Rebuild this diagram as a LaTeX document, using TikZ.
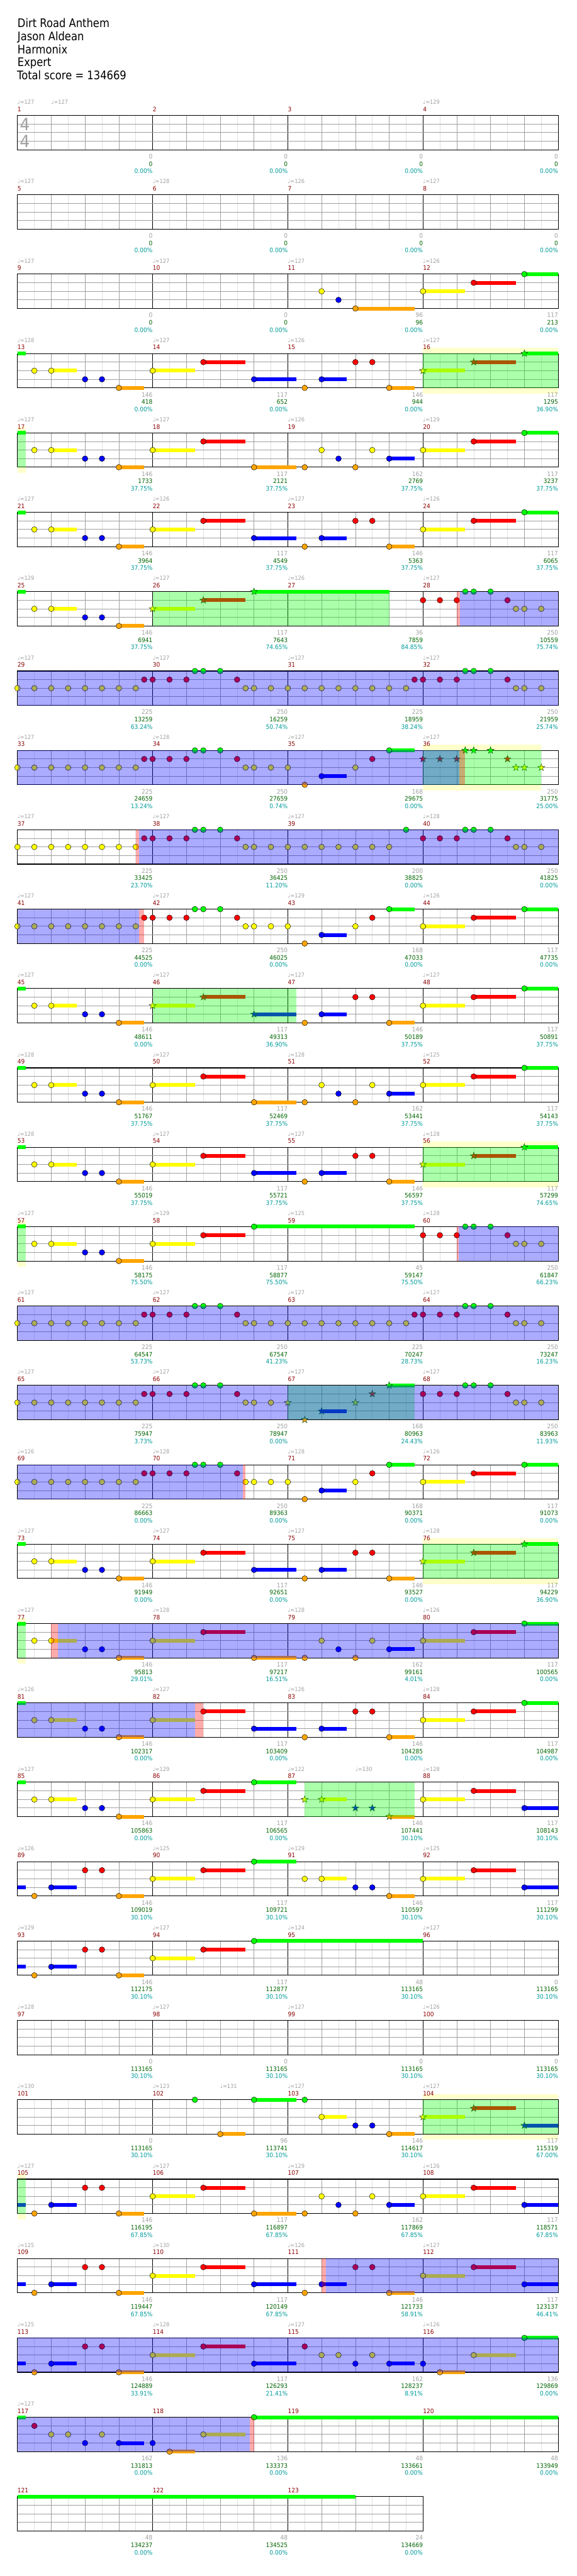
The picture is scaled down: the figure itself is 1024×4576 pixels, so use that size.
\documentclass[tikz,border=0pt]{standalone}
\usepackage{fontspec}
\setmainfont{DejaVu Sans}[FakeStretch=0.92]
\newfontfamily\headfam{DejaVu Sans}[FakeStretch=0.87]

\definecolor{lane0}{HTML}{00FF00}
\definecolor{lane1}{HTML}{FF0000}
\definecolor{lane2}{HTML}{FFFF00}
\definecolor{lane3}{HTML}{0000FF}
\definecolor{lane4}{HTML}{FFA500}
\definecolor{gridgray}{HTML}{A0A0A0}
\definecolor{gridlight}{HTML}{E0E0E0}
\definecolor{labelgray}{HTML}{A0A0A0}
\definecolor{barred}{HTML}{8B0000}
\definecolor{scoregreen}{HTML}{006400}
\definecolor{pctteal}{HTML}{009B9B}
\definecolor{glowyellow}{HTML}{FFFFCC}

\pgfdeclarelayer{bg}
\pgfdeclarelayer{base}
\pgfdeclarelayer{ov}
\pgfsetlayers{bg,base,main,ov}

\newcommand{\labelfont}{\fontsize{11}{11}\selectfont}
\newcommand{\tempofont}{\fontsize{10}{10}\selectfont}

% one line of the chart, #1 = line index (4 measures, 60pt a beat)
\newenvironment{chartrow}[1]{\def\rowid{#1}%
  \begin{scope}[shift={(31pt,{-205pt-141pt*#1})}, x=60pt, y=-15.25pt]}{\end{scope}}

% staff with #1 measures
\newcommand{\staff}[1]{%
  \begin{pgfonlayer}{base}
    \fill[white] (0,0) rectangle (4*#1,4);
    \foreach \h in {1,...,#1}{
      \foreach \q in {0.5,1.5,2.5,3.5} \draw[halfline] ({4*\h-4+\q},0) -- ++(0,4);
      \foreach \q in {1,2,3} \draw[beatline] ({4*\h-4+\q},0) -- ++(0,4);
      \draw[barline] (4*\h-4,0) -- ++(0,4);}
    \foreach \l in {1,2,3} \draw[laneline] (0,\l) -- (4*#1,\l);
    \draw[frame] (0,0) rectangle (4*#1,4);
  \end{pgfonlayer}
  \foreach \h in {1,...,#1}{
    \pgfmathtruncatemacro\mn{4*\rowid+\h}
    \node[mnum] (m\mn) at (4*\h-4,0) {\mn};}}

% notes: beat, lane (0 green ... 4 orange)
\newcommand{\nt}[2]{\draw[notehead, fill=lane#2] (#1,#2) circle[radius=5pt];}
\newcommand{\sus}[3]{\fill[lane#2] (#1,{#2-0.22}) rectangle (#3,{#2+0.22}); \nt{#1}{#2}}
\newcommand{\spn}[2]{\draw[starhead, fill=lane#2] (#1,#2) +(90:6.5pt) -- +(126:2.6pt)
  -- +(162:6.5pt) -- +(198:2.6pt) -- +(234:6.5pt) -- +(270:2.6pt) -- +(306:6.5pt)
  -- +(342:2.6pt) -- +(18:6.5pt) -- +(54:2.6pt) -- cycle;}
\newcommand{\sps}[3]{\fill[lane#2] (#1,{#2-0.22}) rectangle (#3,{#2+0.22}); \spn{#1}{#2}}
\newcommand{\tail}[1]{\fill[lane#1] (0,{#1-0.22}) rectangle (0.24,{#1+0.22});}

% shaded zones
\newcommand{\glow}[2]{\begin{pgfonlayer}{bg}\fill[glowzone] (#1,-0.66) rectangle (#2,4.66);\end{pgfonlayer}}
\newcommand{\phrase}[2]{\begin{pgfonlayer}{ov}\fill[spzone] (#1,0) rectangle (#2,4);\end{pgfonlayer}}
\newcommand{\act}[2]{\begin{pgfonlayer}{ov}\fill[actzone] (#1,0) rectangle (#2,4);\end{pgfonlayer}}
\newcommand{\redstrip}[2]{\begin{pgfonlayer}{ov}\fill[startzone] (#1,0) rectangle (#2,4);\end{pgfonlayer}}

% labels
\newcommand{\tempo}[2]{\node[tempolbl] (tempo\rowid-#1) at (#1,0) {♩=#2};}
\newcommand{\tempos}[1]{\foreach \tb/\tv in {#1}{\tempo{\tb}{\tv}}}
\newcommand{\score}[4]{%
  \node[gainlbl] (gain\rowid-#1) at (4*#1,0) {#2};
  \node[totlbl] (tot\rowid-#1) at (4*#1,0) {#3};
  \node[pctlbl] (pct\rowid-#1) at (4*#1,0) {#4\%};}
\newcommand{\scores}[1]{\foreach \va/\vb/\vc [count=\k] in {#1}{\score{\k}{\va}{\vb}{\vc}}}

% recurring figures
\newcommand{\riffa}{\nt{0.5}{2}\sus{1}{2}{1.75}\nt{2}{3}\nt{2.5}{3}\sus{3}{4}{3.75}}
\newcommand{\riffb}{\nt{0.5}{4}\sus{1}{3}{1.75}\nt{2}{1}\nt{2.5}{1}\sus{3}{4}{3.75}}
\newcommand{\holds}[1]{\sus{4}{2}{5.25}\sus{5.5}{1}{6.75}\sus{7}{#1}{8.25}}
\newcommand{\runa}{\nt{8.5}{4}\sus{9}{3}{9.75}\nt{10}{1}\nt{10.5}{1}\sus{11}{4}{11.75}}
\newcommand{\runb}{\nt{8.5}{4}\nt{9}{2}\nt{9.5}{3}\nt{10}{4}\nt{10.5}{2}\sus{11}{3}{11.75}}
\newcommand{\outro}[1]{\sus{12}{2}{13.25}\sus{13.5}{1}{14.75}\sus{15}{#1}{16}}
\newcommand{\outrostar}[1]{\sps{12}{2}{13.25}\sps{13.5}{1}{14.75}\sps{15}{#1}{16}}
\newcommand{\soloa}{%
  \foreach \bt in {0,0.5,...,3.5}{\nt{\bt}{2}}
  \foreach \bt in {3.75,4,4.5,5,6.5}{\nt{\bt}{1}}
  \foreach \bt in {5.25,5.5,6}{\nt{\bt}{0}}
  \foreach \bt in {6.75,7,7.5}{\nt{\bt}{2}}}
\newcommand{\solob}[1][\nt]{#1{12}{1}#1{12.5}{1}#1{13}{1}#1{13.25}{0}#1{13.5}{0}#1{14}{0}%
  #1{14.5}{1}#1{14.75}{2}#1{15}{2}#1{15.5}{2}}
\newcommand{\soloc}{\nt{8.5}{4}\sus{9}{3}{9.75}\nt{10}{2}\nt{10.5}{1}\sus{11}{0}{11.75}}

\begin{document}
\begin{tikzpicture}[
    halfline/.style={draw=gridlight, line width=0.6pt},
    beatline/.style={draw=gridgray, line width=0.7pt},
    laneline/.style={draw=gridgray, line width=1pt},
    barline/.style={draw=black, line width=0.7pt},
    frame/.style={draw=black, line width=1.2pt},
    notehead/.style={draw=black, line width=0.5pt},
    starhead/.style={draw=black!75!green, line width=0.5pt},
    spzone/.style={fill=lane0, fill opacity=0.33},
    actzone/.style={fill=lane3, fill opacity=0.33},
    startzone/.style={fill=lane1, fill opacity=0.33},
    glowzone/.style={fill=glowyellow},
    every node/.style={inner sep=0pt},
    tempolbl/.style={anchor=base west, text=labelgray, font=\tempofont, yshift=20pt},
    mnum/.style={anchor=base west, text=barred, font=\labelfont, yshift=7pt},
    gainlbl/.style={anchor=base east, text=labelgray, font=\labelfont, yshift=-77pt},
    totlbl/.style={anchor=base east, text=scoregreen, font=\labelfont, yshift=-90pt},
    pctlbl/.style={anchor=base east, text=pctteal, font=\labelfont, yshift=-103pt},
    tsig/.style={text=labelgray, font=\fontsize{30}{30}\selectfont},
    headline/.style={anchor=base west, font=\headfam\fontsize{21}{21}\selectfont}
]
\begin{pgfonlayer}{bg}
  \fill[white] (0pt,0pt) rectangle (1024pt,-4576pt);
\end{pgfonlayer}
\useasboundingbox (0pt,0pt) rectangle (1024pt,-4576pt);

\node[headline] (title) at (31pt,-49pt) {Dirt Road Anthem};
\node[headline] (artist) at (31pt,-72pt) {Jason Aldean};
\node[headline] (charter) at (31pt,-95pt) {Harmonix};
\node[headline] (level) at (31pt,-118pt) {Expert};
\node[headline] (total) at (30pt,-141pt) {Total score = 134669};

\begin{chartrow}{0}
  \staff{4}
  \tempos{0/127,1/127,12/129}
  \node[tsig] (ts-top) at (0.22,1.05) {4};
  \node[tsig] (ts-bot) at (0.22,3) {4};
  \scores{0/0/0.00,0/0/0.00,0/0/0.00,0/0/0.00}
\end{chartrow}

\begin{chartrow}{1}
  \staff{4}
  \tempos{0/127,4/128,8/126,12/127}
  \scores{0/0/0.00,0/0/0.00,0/0/0.00,0/0/0.00}
\end{chartrow}

\begin{chartrow}{2}
  \staff{4}
  \tempos{0/127,4/127,8/127,12/126}
  \nt{9}{2}\nt{9.5}{3}\sus{10}{4}{11.75}\outro{0}
  \scores{0/0/0.00,0/0/0.00,96/96/0.00,117/213/0.00}
\end{chartrow}

\begin{chartrow}{3}
  \staff{4}
  \tempos{0/128,4/127,8/126,12/127}
  \tail{0}\riffa\holds{3}\runa\outrostar{0}
  \glow{12}{16}\phrase{12}{16}
  \scores{146/418/0.00,117/652/0.00,146/944/0.00,117/1295/36.90}
\end{chartrow}

\begin{chartrow}{4}
  \staff{4}
  \tempos{0/127,4/127,8/126,12/129}
  \tail{0}\riffa\holds{4}\runb\outro{0}
  \glow{0}{0.24}\phrase{0}{0.24}
  \scores{146/1733/37.75,117/2121/37.75,162/2769/37.75,117/3237/37.75}
\end{chartrow}

\begin{chartrow}{5}
  \staff{4}
  \tempos{0/127,4/126,8/127,12/126}
  \tail{0}\riffa\holds{3}\runa\outro{0}
  \scores{146/3964/37.75,117/4549/37.75,146/5363/37.75,117/6065/37.75}
\end{chartrow}

\begin{chartrow}{6}
  \staff{4}
  \tempos{0/129,4/127,8/126,12/127}
  \tail{0}\riffa
  \sps{4}{2}{5.25}\sps{5.5}{1}{6.75}\sps{7}{0}{11}
  \solob
  \phrase{4}{11}\redstrip{13}{13.1}\act{13.1}{16}
  \scores{146/6941/37.75,117/7643/74.65,36/7859/84.85,250/10559/75.74}
\end{chartrow}

\begin{chartrow}{7}
  \staff{4}
  \tempos{0/127,4/127,8/127,12/127}
  \soloa
  \foreach \bt in {8,8.5,...,11.5}{\nt{\bt}{2}}
  \nt{11.75}{1}\solob
  \act{0}{16}
  \scores{225/13259/63.24,250/16259/50.74,225/18959/38.24,250/21959/25.74}
\end{chartrow}

\begin{chartrow}{8}
  \staff{4}
  \tempos{0/127,4/128,8/127,12/127}
  \soloa\nt{8}{2}\soloc\solob[\spn]
  \glow{12}{15.5}\phrase{12}{15.5}\act{0}{13.07}\redstrip{13.07}{13.25}
  \scores{225/24659/13.24,250/27659/0.74,168/29675/0.00,250/31775/25.00}
\end{chartrow}

\begin{chartrow}{9}
  \staff{4}
  \tempos{0/127,4/127,8/127,12/128}
  \soloa
  \foreach \bt in {8,8.5,...,11}{\nt{\bt}{2}}
  \nt{11.5}{0}\solob
  \redstrip{3.5}{3.6}\act{3.6}{16}
  \scores{225/33425/23.70,250/36425/11.20,200/38825/0.00,250/41825/0.00}
\end{chartrow}

\begin{chartrow}{10}
  \staff{4}
  \tempos{0/127,4/127,8/129,12/126}
  \soloa\nt{8}{2}\soloc\outro{0}
  \act{0}{3.59}\redstrip{3.59}{3.75}
  \scores{225/44525/0.00,250/46025/0.00,168/47033/0.00,117/47735/0.00}
\end{chartrow}

\begin{chartrow}{11}
  \staff{4}
  \tempos{0/127,4/127,8/127,12/127}
  \tail{0}\riffa
  \sps{4}{2}{5.25}\sps{5.5}{1}{6.75}\sps{7}{3}{8.25}
  \runa\outro{0}
  \phrase{4}{8.25}
  \scores{146/48611/0.00,117/49313/36.90,146/50189/37.75,117/50891/37.75}
\end{chartrow}

\begin{chartrow}{12}
  \staff{4}
  \tempos{0/128,4/127,8/128,12/125}
  \tail{0}\riffa\holds{4}\runb\outro{0}
  \scores{146/51767/37.75,117/52469/37.75,162/53441/37.75,117/54143/37.75}
\end{chartrow}

\begin{chartrow}{13}
  \staff{4}
  \tempos{0/128,4/127,8/127,12/128}
  \tail{0}\riffa\holds{3}\runa\outrostar{0}
  \glow{12}{16}\phrase{12}{16}
  \scores{146/55019/37.75,117/55721/37.75,146/56597/37.75,117/57299/74.65}
\end{chartrow}

\begin{chartrow}{14}
  \staff{4}
  \tempos{0/127,4/129,8/125,12/128}
  \tail{0}\riffa
  \sus{4}{2}{5.25}\sus{5.5}{1}{6.75}\sus{7}{0}{11.75}
  \solob
  \glow{0}{0.24}\phrase{0}{0.24}\redstrip{13}{13.06}\act{13.06}{16}
  \scores{146/58175/75.50,117/58877/75.50,45/59147/75.50,250/61847/66.23}
\end{chartrow}

\begin{chartrow}{15}
  \staff{4}
  \tempos{0/127,4/127,8/127,12/127}
  \soloa
  \foreach \bt in {8,8.5,...,11.5}{\nt{\bt}{2}}
  \nt{11.75}{1}\solob
  \act{0}{16}
  \scores{225/64547/53.73,250/67547/41.23,225/70247/28.73,250/73247/16.23}
\end{chartrow}

\begin{chartrow}{16}
  \staff{4}
  \tempos{0/127,4/127,8/127,12/127}
  \soloa
  \spn{8}{2}\spn{8.5}{4}\sps{9}{3}{9.75}\spn{10}{2}\spn{10.5}{1}\sps{11}{0}{11.75}
  \solob
  \phrase{8}{11.75}\act{0}{16}
  \scores{225/75947/3.73,250/78947/0.00,168/80963/24.43,250/83963/11.93}
\end{chartrow}

\begin{chartrow}{17}
  \staff{4}
  \tempos{0/126,4/128,8/128,12/126}
  \soloa\nt{8}{2}\soloc\outro{0}
  \act{0}{6.67}\redstrip{6.67}{6.75}
  \scores{225/86663/0.00,250/89363/0.00,168/90371/0.00,117/91073/0.00}
\end{chartrow}

\begin{chartrow}{18}
  \staff{4}
  \tempos{0/127,4/127,8/127,12/128}
  \tail{0}\riffa\holds{3}\runa\outrostar{0}
  \glow{12}{16}\phrase{12}{16}
  \scores{146/91949/0.00,117/92651/0.00,146/93527/0.00,117/94229/36.90}
\end{chartrow}

\begin{chartrow}{19}
  \staff{4}
  \tempos{0/127,4/128,8/128,12/126}
  \tail{0}\riffa\holds{4}\runb\outro{0}
  \glow{0}{0.24}\phrase{0}{0.24}\redstrip{1}{1.19}\act{1.19}{16}
  \scores{146/95813/29.01,117/97217/16.51,162/99161/4.01,117/100565/0.00}
\end{chartrow}

\begin{chartrow}{20}
  \staff{4}
  \tempos{0/126,4/127,8/126,12/128}
  \tail{0}\riffa\holds{3}\runa\outro{0}
  \act{0}{5.25}\redstrip{5.25}{5.5}
  \scores{146/102317/0.00,117/103409/0.00,146/104285/0.00,117/104987/0.00}
\end{chartrow}

\begin{chartrow}{21}
  \staff{4}
  \tempos{0/127,4/129,8/122,10/130,12/128}
  \tail{0}\riffa\holds{0}
  \spn{8.5}{2}\sps{9}{2}{9.75}\spn{10}{3}\spn{10.5}{3}\sps{11}{4}{11.75}
  \outro{3}
  \phrase{8.5}{11.75}
  \scores{146/105863/0.00,117/106565/0.00,146/107441/30.10,117/108143/30.10}
\end{chartrow}

\begin{chartrow}{22}
  \staff{4}
  \tempos{0/126,4/125,8/129,12/125}
  \tail{3}\riffb\holds{0}
  \nt{8.5}{2}\sus{9}{2}{9.75}\nt{10}{3}\nt{10.5}{3}\sus{11}{4}{11.75}
  \outro{3}
  \scores{146/109019/30.10,117/109721/30.10,146/110597/30.10,117/111299/30.10}
\end{chartrow}

\begin{chartrow}{23}
  \staff{4}
  \tempos{0/129,4/127,8/124,12/127}
  \tail{3}\riffb
  \sus{4}{2}{5.25}\sus{5.5}{1}{6.75}\sus{7}{0}{12}
  \scores{146/112175/30.10,117/112877/30.10,48/113165/30.10,0/113165/30.10}
\end{chartrow}

\begin{chartrow}{24}
  \staff{4}
  \tempos{0/128,4/127,8/127,12/126}
  \scores{0/113165/30.10,0/113165/30.10,0/113165/30.10,0/113165/30.10}
\end{chartrow}

\begin{chartrow}{25}
  \staff{4}
  \tempos{0/130,4/123,6/131,8/127,12/127}
  \nt{5.25}{0}\sus{6}{4}{6.75}\sus{7}{0}{8.25}\nt{8.5}{0}
  \sus{9}{2}{9.75}\nt{10}{3}\nt{10.5}{3}\sus{11}{4}{11.75}
  \outrostar{3}
  \glow{12}{16}\phrase{12}{16}
  \scores{0/113165/30.10,96/113741/30.10,146/114617/30.10,117/115319/67.00}
\end{chartrow}

\begin{chartrow}{26}
  \staff{4}
  \tempos{0/127,4/127,8/129,12/126}
  \tail{3}\riffb\holds{4}\runb\outro{3}
  \glow{0}{0.24}\phrase{0}{0.24}
  \scores{146/116195/67.85,117/116897/67.85,162/117869/67.85,117/118571/67.85}
\end{chartrow}

\begin{chartrow}{27}
  \staff{4}
  \tempos{0/125,4/130,8/126,12/127}
  \tail{3}\riffb\holds{3}\runa\outro{3}
  \redstrip{9}{9.13}\act{9.13}{16}
  \scores{146/119447/67.85,117/120149/67.85,146/121733/58.91,117/123137/46.41}
\end{chartrow}

\begin{chartrow}{28}
  \staff{4}
  \tempos{0/125,4/128,8/127,12/126}
  \tail{3}\riffb\holds{3}
  \nt{8.5}{1}\nt{9}{2}\nt{9.5}{2}\nt{10}{3}\nt{10.5}{2}\sus{11}{3}{11.75}
  \nt{12}{3}\sus{12.5}{4}{13.25}\sus{13.5}{2}{14.75}\sus{15}{0}{16}
  \act{0}{16}
  \scores{146/124889/33.91,117/126293/21.41,162/128237/8.91,136/129869/0.00}
\end{chartrow}

\begin{chartrow}{29}
  \staff{4}
  \tempos{0/127}
  \tail{0}\nt{0.5}{1}\nt{1}{2}\nt{1.5}{2}\nt{2}{3}\nt{2.5}{2}\sus{3}{3}{3.75}
  \nt{4}{3}\sus{4.5}{4}{5.25}\sus{5.5}{2}{6.75}\sus{7}{0}{16}
  \act{0}{6.87}\redstrip{6.87}{7}
  \scores{162/131813/0.00,136/133373/0.00,48/133661/0.00,48/133949/0.00}
\end{chartrow}

\begin{chartrow}{30}
  \staff{3}
  \fill[lane0] (0,-0.22) rectangle (10,0.22);
  \scores{48/134237/0.00,48/134525/0.00,24/134669/0.00}
\end{chartrow}

\end{tikzpicture}
\end{document}
